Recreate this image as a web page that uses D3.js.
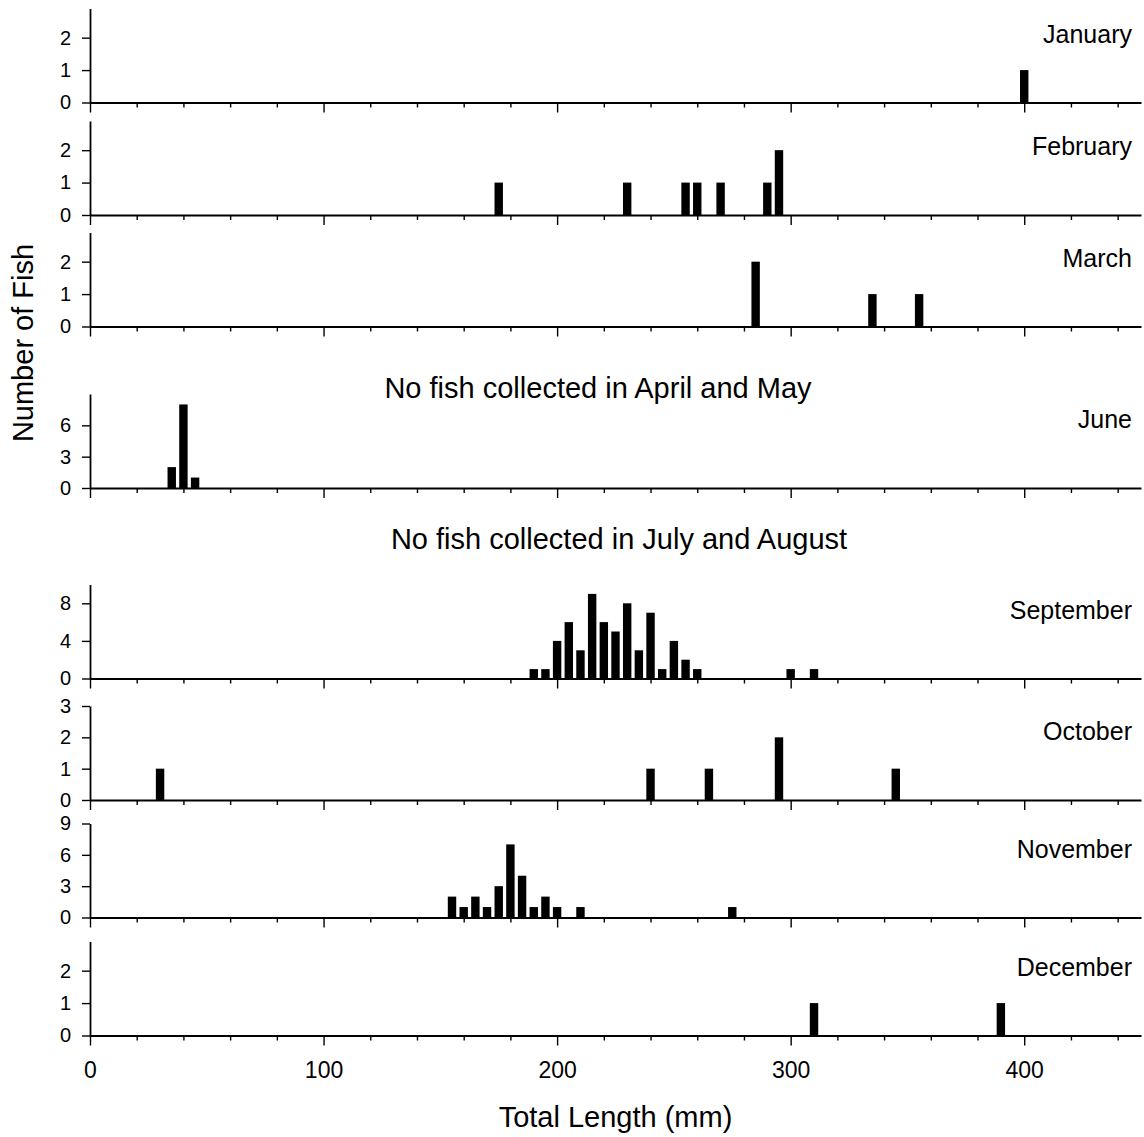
<!DOCTYPE html>
<html>
<head>
<meta charset="utf-8">
<script src="https://cdn.jsdelivr.net/npm/d3@7"></script>
<style>
  body { margin: 0; background: #fff; }
  svg { font-family: "Liberation Sans", Arial, Helvetica, sans-serif; }
</style>
</head>
<body>
<div id="chart"></div>
<script>
// length-frequency data, total length (mm) of each 5 mm bin and number of fish
const months = ["January", "February", "March", "June", "September", "October", "November", "December"];

const janLengths = [400];
const janCounts = [1];
const febLengths = [175, 230, 255, 260, 270, 290, 295];
const febCounts = [1, 1, 1, 1, 1, 1, 2];
const marLengths = [285, 335, 355];
const marCounts = [2, 1, 1];
const junLengths = [35, 40, 45];
const junCounts = [2, 8, 1];
const sepLengths = [190, 195, 200, 205, 210, 215, 220, 225, 230, 235, 240, 245, 250, 255, 260, 300, 310];
const sepCounts = [1, 1, 4, 6, 3, 9, 6, 5, 8, 3, 7, 1, 4, 2, 1, 1, 1];
const octLengths = [30, 240, 265, 295, 345];
const octCounts = [1, 1, 1, 2, 1];
const novLengths = [155, 160, 165, 170, 175, 180, 185, 190, 195, 200, 210, 275];
const novCounts = [2, 1, 2, 1, 3, 7, 4, 1, 2, 1, 1, 1];
const decLengths = [310, 390];
const decCounts = [1, 1];

// y axis for each panel
const yMaxes = [2.9, 2.9, 2.9, 9, 10, 3, 9, 2.9];
const yTickSets = [[0, 1, 2], [0, 1, 2], [0, 1, 2], [0, 3, 6], [0, 4, 8], [0, 1, 2, 3], [0, 3, 6, 9], [0, 1, 2]];
const xTickValues = d3.range(0, 441, 20);

const notes = ["No fish collected in April and May", "No fish collected in July and August"];

const lengths = [janLengths, febLengths, marLengths, junLengths, sepLengths, octLengths, novLengths, decLengths];
const counts = [janCounts, febCounts, marCounts, junCounts, sepCounts, octCounts, novCounts, decCounts];

// layout
const width = 1144, height = 1137;
const baselines = [102.5, 215, 326.5, 488, 678.5, 800, 917.5, 1035.5];
const panelH = 94;

const svg = d3.select("#chart").append("svg")
    .attr("width", width)
    .attr("height", height);

const x = d3.scaleLinear().domain([0, 450]).range([90, 1141]);
const barW = x(3.6) - x(0);

months.forEach((m, i) => {
    const base = baselines[i];
    const y = d3.scaleLinear().domain([0, yMaxes[i]]).range([base, base - panelH]);
    const g = svg.append("g");
    const last = i === months.length - 1;

    // bars
    const rows = lengths[i].map((len, k) => ({len: len, n: counts[i][k]}));
    g.selectAll("rect")
        .data(rows)
        .join("rect")
            .attr("x", d => x(d.len) - barW / 2)
            .attr("y", d => y(d.n))
            .attr("width", barW)
            .attr("height", d => y(0) - y(d.n))
            .attr("fill", "#000");

    // y axis
    const ya = g.append("g")
        .attr("transform", "translate(" + x(0) + ",0)")
        .call(d3.axisLeft(y).tickValues(yTickSets[i]).tickFormat(d3.format("d"))
            .tickSize(8).tickSizeOuter(0).tickPadding(11));
    ya.select(".domain").attr("stroke", "#000").attr("stroke-width", 1.8);
    ya.selectAll(".tick line").attr("stroke", "#000").attr("stroke-width", 1.4);
    ya.selectAll(".tick text").attr("font-size", 20).attr("fill", "#000").attr("font-family", null);

    // x axis
    const xa = g.append("g")
        .attr("transform", "translate(0," + base + ")")
        .call(d3.axisBottom(x).tickValues(xTickValues).tickSize(5).tickSizeOuter(0)
            .tickFormat(d => (last && d % 100 === 0) ? d : ""));
    xa.select(".domain").attr("stroke", "#000").attr("stroke-width", 2);
    xa.selectAll(".tick line")
        .attr("stroke", "#000")
        .attr("stroke-width", 1.4)
        .attr("y2", d => d % 100 === 0 ? 10 : 5);
    xa.selectAll(".tick text")
        .attr("font-size", 23)
        .attr("fill", "#000")
        .attr("font-family", null)
        .attr("y", 42.5)
        .attr("dy", null);

    // month label
    g.append("text")
        .attr("x", 1132)
        .attr("y", base - 60)
        .attr("text-anchor", "end")
        .attr("font-size", 25)
        .text(m);
});

// gaps with no samples
svg.append("text")
    .attr("x", 598).attr("y", 398)
    .attr("text-anchor", "middle")
    .attr("font-size", 29)
    .text(notes[0]);
svg.append("text")
    .attr("x", 619).attr("y", 549)
    .attr("text-anchor", "middle")
    .attr("font-size", 29)
    .text(notes[1]);

// axis titles
svg.append("text")
    .attr("x", x(225)).attr("y", 1127)
    .attr("text-anchor", "middle")
    .attr("font-size", 29)
    .text("Total Length (mm)");
svg.append("text")
    .attr("transform", "translate(33,343) rotate(-90)")
    .attr("text-anchor", "middle")
    .attr("font-size", 29)
    .text("Number of Fish");
</script>
</body>
</html>
